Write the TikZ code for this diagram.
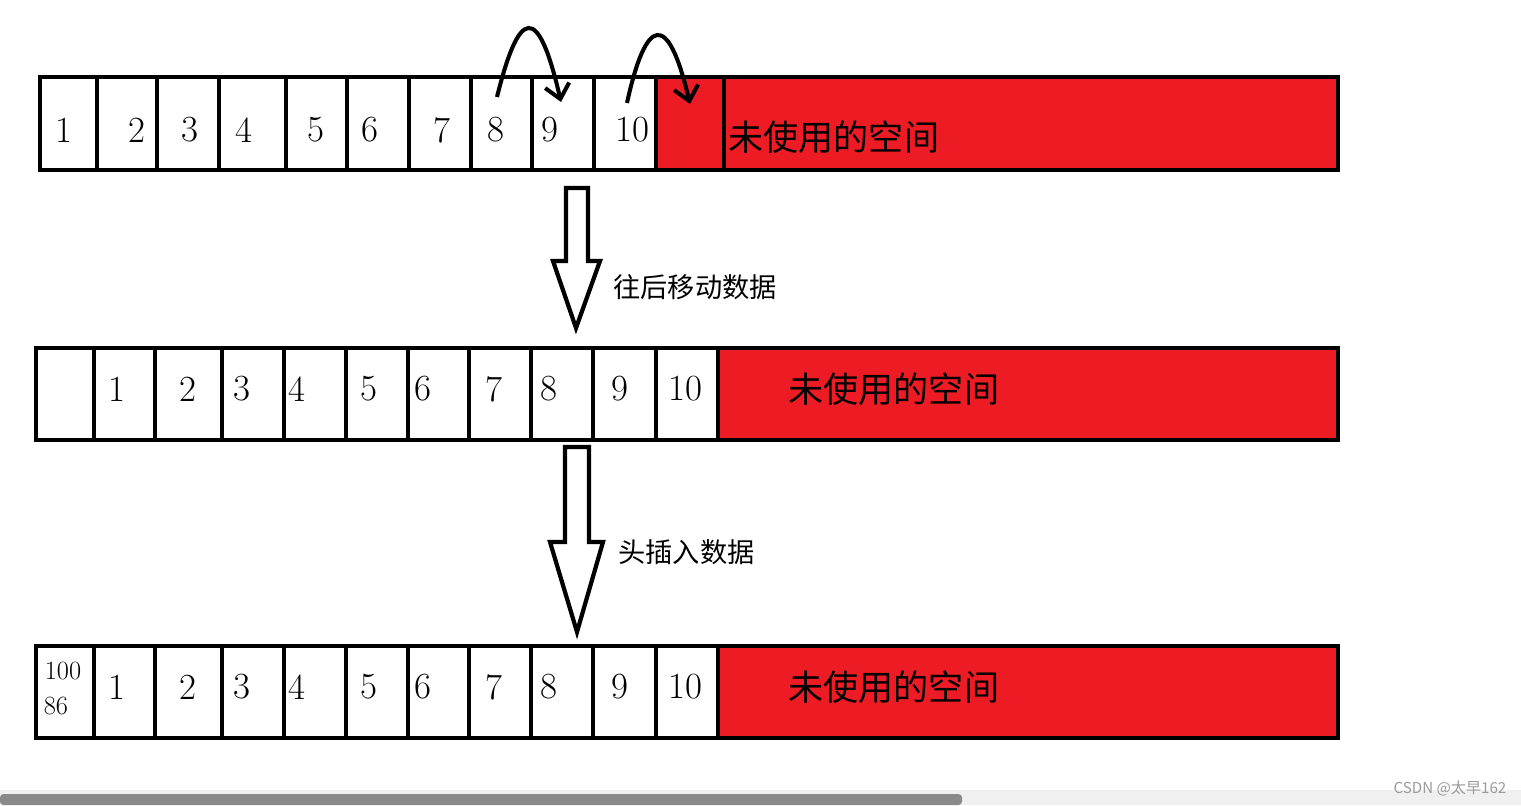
\documentclass[tikz,border=0pt]{standalone}
\usepackage{fontspec}
\usepackage{tikz}
\usetikzlibrary{arrows.meta}
\newfontfamily\cjk{Noto Sans CJK SC}
\definecolor{paintRed}{HTML}{ED1C24}
\definecolor{barGray}{HTML}{F0F0F0}
\definecolor{thumbGray}{HTML}{8A8A8A}
\definecolor{markGray}{HTML}{9A9A9A}
\tikzset{
  cellline/.style={line width=2.7pt, black},
  hollow/.style={line width=2.4pt, black, fill=white, line join=miter},
  hop/.style={-{Straight Barb[length=8pt,width=14pt]}, line width=2.3pt},
  num/.style={inner sep=0pt, font=\fontsize{21}{24}\selectfont},
  tiny/.style={inner sep=0pt, font=\fontsize{15}{17}\selectfont},
  free/.style={inner sep=0pt, anchor=west, font=\cjk\fontsize{20}{24}\selectfont},
  note/.style={inner sep=0pt, anchor=west, font=\cjk\fontsize{15.5}{18}\selectfont},
  wmark/.style={inner sep=0pt, markGray, font=\cjk\fontsize{8.6}{10}\selectfont},
}

\begin{document}
\begin{tikzpicture}[x=0.02cm, y=-0.02cm]
  \useasboundingbox (0,0) rectangle (1521,805);
  % row 1: before moving
  \fill[paintRed] (656,77) rectangle (1338,170);
  \draw[cellline] (40,77) rectangle (1338,170);
  \foreach \x in {97,157,219,286,347,409,471,532,594,656,724}
    \draw[cellline] (\x,77) -- (\x,170);
  \foreach \x/\t [count=\i] in {64/1,137/2,190/3,244/4,316/5,370/6,442/7,496/8,550/9,632/10}
    \node[num] (a\i) at (\x,130) {\t};
  \node[free] (afree) at (728,137) {未使用的空间};

  % hops over the cells
  \coordinate (h1s) at (497,97);
  \coordinate (h1e) at (561,102);
  \coordinate (h2s) at (627,103);
  \coordinate (h2e) at (690,104);
  \draw[hop] (h1s) .. controls (519,8) and (538,2) .. (h1e);
  \draw[hop] (h2s) .. controls (646,16) and (668,10) .. (h2e);

  % first hollow arrow
  \draw[hollow] (566,188) -- (588,188) -- (588,261) -- (600,261)
    -- (576,328) -- (553,261) -- (566,261) -- cycle;
  \node[note] (shift) at (613,287) {往后移动数据};

  % rows 2 and 3: after moving
  \foreach \r/\y in {b/0, c/298} {
    \fill[paintRed] (718,348+\y) rectangle (1338,440+\y);
    \draw[cellline] (36,348+\y) rectangle (1338,440+\y);
    \foreach \x in {94,155,222,284,346,408,469,531,593,656,718}
      \draw[cellline] (\x,348+\y) -- (\x,440+\y);
    \foreach \x/\t [count=\i] in {117/1,188/2,242/3,297/4,369/5,423/6,494/7,549/8,620/9,685/10}
      \node[num] (\r\i) at (\x,389+\y) {\t};
    \node[free] (\r free) at (788,389+\y) {未使用的空间};
  }

  % second hollow arrow
  \draw[hollow] (565,447) -- (589,447) -- (589,542) -- (603,542)
    -- (577,632) -- (550,542) -- (565,542) -- cycle;
  \node[note] (insert) at (618,552) {头插入数据};

  % the new head value
  \node[tiny] (c0a) at (63,671) {100};
  \node[tiny] (c0b) at (56,706) {86};

  % scrollbar and mark
  \fill[barGray] (0,790) rectangle (1521,805);
  \fill[thumbGray, rounded corners=2pt] (0,794) rectangle (962,805);
  \node[wmark] (mark) at (1450,788) {CSDN @太早162};
\end{tikzpicture}
\end{document}
